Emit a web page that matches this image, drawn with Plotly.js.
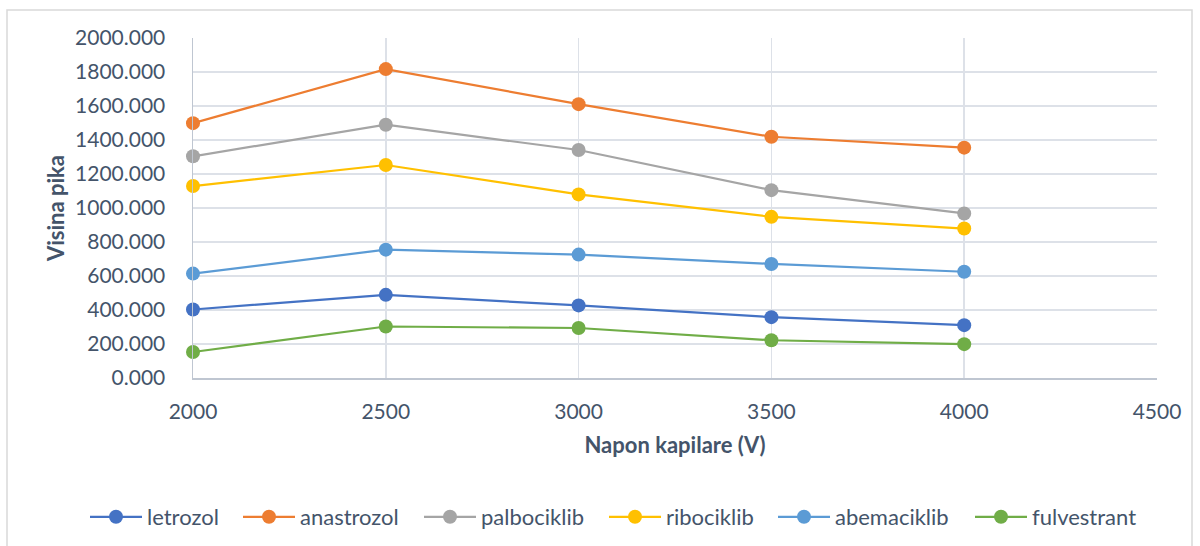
<!DOCTYPE html>
<html>
<head>
<meta charset="utf-8">
<script src="https://cdn.plot.ly/plotly-3.0.1.min.js"></script>
<style>
html,body{margin:0;padding:0;background:#fff;}
#chart{width:1200px;height:546px;}
</style>
</head>
<body>
<div id="chart"></div>
<script>
const voltages = [2000, 2500, 3000, 3500, 4000];
const letrozol = [403, 489, 427, 358, 311];
const anastrozol = [1499, 1817, 1611, 1419, 1355];
const palbociklib = [1304, 1490, 1341, 1105, 968];
const ribociklib = [1129, 1253, 1080, 948, 879];
const abemaciklib = [614, 755, 726, 671, 625];
const fulvestrant = [153, 303, 294, 222, 199];

const seriesNames = ['letrozol', 'anastrozol', 'palbociklib', 'ribociklib', 'abemaciklib', 'fulvestrant'];
const seriesValues = [letrozol, anastrozol, palbociklib, ribociklib, abemaciklib, fulvestrant];
const seriesColors = ['#4472C4', '#ED7D31', '#A5A5A5', '#FFC000', '#5B9BD5', '#70AD47'];
// left edge (px) of each legend entry, as laid out in the reference
const legendStarts = [90, 243, 424, 609, 778, 975];

const FONT = 'Lato, "Open Sans", sans-serif';
const TXT = '#44546A';

const legendIds = ['legend', 'legend2', 'legend3', 'legend4', 'legend5', 'legend6'];

const traces = seriesNames.map((name, i) => ({
  type: 'scatter',
  mode: 'lines+markers',
  name: name,
  x: voltages,
  y: seriesValues[i],
  legend: legendIds[i],
  cliponaxis: false,
  line: {color: seriesColors[i], width: 2.2},
  marker: {color: seriesColors[i], size: 14}
}));

const layout = {
  width: 1200,
  height: 546,
  paper_bgcolor: '#ffffff',
  plot_bgcolor: '#ffffff',
  margin: {l: 193, r: 43, t: 38, b: 168},
  font: {family: FONT, color: TXT, size: 20},
  showlegend: true,
  xaxis: {
    range: [2000, 4500],
    tick0: 2000, dtick: 500,
    showgrid: true, gridcolor: '#DDE1E8', gridwidth: 1.5,
    showline: true, linecolor: '#BFC6D1', linewidth: 1.5,
    zeroline: false,
    ticks: '',
    ticklabelstandoff: 14,
    tickfont: {family: FONT, size: 21, color: TXT},
    title: {text: '<b>Napon kapilare (V)</b>', font: {family: FONT, size: 22, color: TXT}, standoff: 16},
    automargin: false
  },
  yaxis: {
    range: [0, 2000],
    tick0: 0, dtick: 200,
    tickformat: '.3f',
    showgrid: true, gridcolor: '#DDE1E8', gridwidth: 1.5,
    showline: true, linecolor: '#BFC6D1', linewidth: 1.5,
    zeroline: false,
    ticks: '',
    ticklabelstandoff: 22,
    tickfont: {family: FONT, size: 21, color: TXT},
    title: {text: '<b>Visina pika</b>', font: {family: FONT, size: 22, color: TXT}, standoff: 4},
    automargin: false
  },
  shapes: [{
    type: 'rect', xref: 'paper', yref: 'paper',
    x0: (7 - 193) / 964, x1: (1192 - 193) / 964,
    y0: (378 - 560) / 340, y1: (378 - 10) / 340,
    line: {color: '#D9D9D9', width: 1.5},
    fillcolor: 'rgba(0,0,0,0)',
    layer: 'below'
  }]
};

legendIds.forEach((id, i) => {
  layout[id] = {
    orientation: 'h',
    xref: 'container', yref: 'container',
    x: (legendStarts[i] - 5) / 1200, xanchor: 'left',
    y: 1 - 517 / 546, yanchor: 'middle',
    font: {family: FONT, size: 22, color: TXT},
    itemwidth: 52,
    bgcolor: 'rgba(0,0,0,0)',
    borderwidth: 0
  };
});

Plotly.newPlot('chart', traces, layout, {displayModeBar: false, staticPlot: true});
</script>
</body>
</html>
